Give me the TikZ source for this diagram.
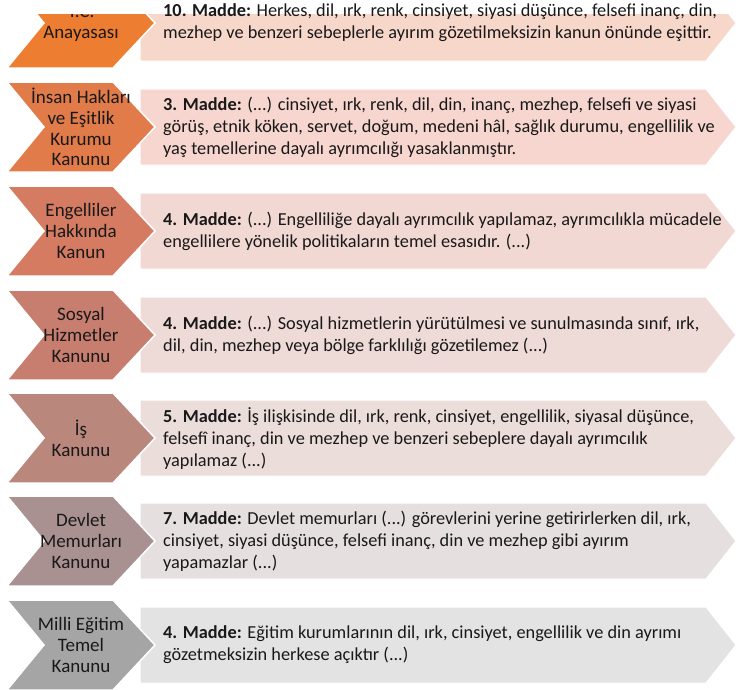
\documentclass[tikz,border=0pt]{standalone}
\usepackage{fontspec}
\setmainfont{Carlito}
\definecolor{c1}{RGB}{237,125,49}
\definecolor{c2}{RGB}{226,123,74}
\definecolor{c3}{RGB}{213,123,97}
\definecolor{c4}{RGB}{199,126,110}
\definecolor{c5}{RGB}{186,135,125}
\definecolor{c6}{RGB}{170,145,145}
\definecolor{c7}{RGB}{165,165,165}
\definecolor{b1}{RGB}{248,215,203}
\definecolor{b2}{RGB}{246,214,206}
\definecolor{b3}{RGB}{242,216,210}
\definecolor{b4}{RGB}{238,218,214}
\definecolor{b5}{RGB}{235,221,218}
\definecolor{b6}{RGB}{230,223,223}
\definecolor{b7}{RGB}{227,227,227}
\tikzset{
  x=1pt, y=-1pt,
  chev/.style={draw=white, line width=1.5pt, line join=miter},
  boxshape/.style={draw=white, line width=1pt},
  labeltext/.style={align=center, text=black!90, font=\fontsize{19}{20.8}\selectfont, inner sep=0pt},
  bodytext/.style={align=left, anchor=west, text=black!90, font=\fontsize{18.3}{22}\selectfont, inner sep=0pt}
}
\newcommand{\rowshape}[5]{%
  % #1 name, #2 mid y, #3 chevron colour, #4 box colour, #5 label
  \fill[#4, boxshape] (140,#2-38) -- (706,#2-38) -- (736,#2) -- (706,#2+38) -- (140,#2+38) -- cycle;
  \fill[#3, chev] (7,#2-45) -- (113,#2-45) -- (155,#2) -- (113,#2+45) -- (7,#2+45) -- (44,#2) -- cycle;
  \node[labeltext] (lab#1) at (81,#2) {#5};
}
\newcommand{\rowtext}[3]{%
  \node[bodytext] (txt#1) at (163,#2) {#3};
}
\begin{document}
\begin{tikzpicture}
\useasboundingbox (0,0) rectangle (736,689);
\fill[white] (0,0) rectangle (736,689);
\begin{scope}
\clip (0,14) rectangle (736,689);
\rowshape{a}{23}{c1}{b1}{T.C.\\Anayasası}
\rowshape{b}{127}{c2}{b2}{İnsan Hakları\\ve Eşitlik\\Kurumu\\Kanunu}
\rowshape{c}{231}{c3}{b3}{Engelliler\\Hakkında\\Kanun}
\rowshape{d}{335}{c4}{b4}{Sosyal\\Hizmetler\\Kanunu}
\rowshape{e}{438}{c5}{b5}{İş\\Kanunu}
\rowshape{f}{541}{c6}{b6}{Devlet\\Memurları\\Kanunu}
\rowshape{g}{645}{c7}{b7}{Milli Eğitim\\Temel\\Kanunu}
\end{scope}
\rowtext{a}{23}{\textbf{10. Madde:} Herkes, dil, ırk, renk, cinsiyet, siyasi düşünce, felsefi inanç, din,\\mezhep ve benzeri sebeplerle ayırım gözetilmeksizin kanun önünde eşittir.}
\rowtext{b}{127}{\textbf{3. Madde:} (...) cinsiyet, ırk, renk, dil, din, inanç, mezhep, felsefi ve siyasi\\görüş, etnik köken, servet, doğum, medeni hâl, sağlık durumu, engellilik ve\\yaş temellerine dayalı ayrımcılığı yasaklanmıştır.}
\rowtext{c}{231}{\textbf{4. Madde:} (...) Engelliliğe dayalı ayrımcılık yapılamaz, ayrımcılıkla mücadele\\engellilere yönelik politikaların temel esasıdır. (...)}
\rowtext{d}{335}{\textbf{4. Madde:} (...) Sosyal hizmetlerin yürütülmesi ve sunulmasında sınıf, ırk,\\dil, din, mezhep veya bölge farklılığı gözetilemez (...)}
\rowtext{e}{438}{\textbf{5. Madde:} İş ilişkisinde dil, ırk, renk, cinsiyet, engellilik, siyasal düşünce,\\felsefî inanç, din ve mezhep ve benzeri sebeplere dayalı ayrımcılık\\yapılamaz (...)}
\rowtext{f}{541}{\textbf{7. Madde:} Devlet memurları (...) görevlerini yerine getirirlerken dil, ırk,\\cinsiyet, siyasi düşünce, felsefi inanç, din ve mezhep gibi ayırım\\yapamazlar (...)}
\rowtext{g}{645}{\textbf{4. Madde:} Eğitim kurumlarının dil, ırk, cinsiyet, engellilik ve din ayrımı\\gözetmeksizin herkese açıktır (...)}
\end{tikzpicture}
\end{document}
